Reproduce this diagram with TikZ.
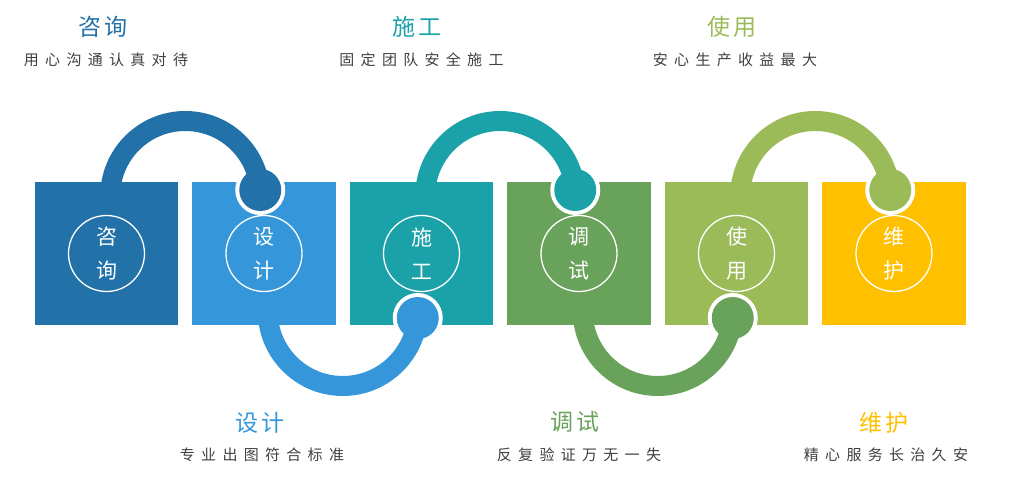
\documentclass[tikz,border=0pt]{standalone}
\usepackage{fontspec}
\usepackage{xcolor}
\usepackage{tikz}
\usetikzlibrary{positioning,calc}
\newfontfamily\cjk{Noto Sans CJK SC}
\newfontfamily\cjkwide[LetterSpace=42]{Noto Sans CJK SC}
\definecolor{pzblue}{HTML}{2272A9}
\definecolor{pzsky}{HTML}{3597D9}
\definecolor{pzteal}{HTML}{1AA2A8}
\definecolor{pzgreen}{HTML}{68A25B}
\definecolor{pzlime}{HTML}{9BBB59}
\definecolor{pzgold}{HTML}{FFC000}
\definecolor{pzgray}{HTML}{404040}

\begin{document}
\begin{tikzpicture}[x=1pt,y=-1pt,
  blk/.style={rectangle,minimum size=143.5pt,inner sep=0pt},
  rng/.style={circle,draw=white,line width=1.3pt,minimum size=76pt,inner sep=0pt,align=center,text=white,font=\cjk\fontsize{21pt}{34pt}\selectfont},
  hole/.style={circle,fill=white,minimum size=50pt,inner sep=0pt},
  knb/.style={circle,minimum size=42pt,inner sep=0pt},
  lnk/.style={line width=20pt},
  ttl/.style={font=\cjk\fontsize{23pt}{24pt}\selectfont},
  sub/.style={font=\cjkwide\fontsize{15pt}{16pt}\selectfont,text=pzgray}]
\useasboundingbox (0,0) rectangle (1013,489);
% ---- squares with rings ----
\foreach \i/\x/\c/\a/\b in {1/106.5/pzblue/咨/询,2/264/pzsky/设/计,3/421.5/pzteal/施/工,4/579/pzgreen/调/试,5/736.5/pzlime/使/用,6/894/pzgold/维/护}{
  \node[blk,fill=\c] (s\i) at (\x,253.5) {};
  \node[rng] (r\i) at (s\i) {\a\\\b};}
% ---- white holes under the knobs ----
\foreach \i/\dy in {2/-63.5,3/64.5,4/-63.5,5/64.5,6/-63.5}{
  \coordinate (h\i) at ($(s\i)+(-3.75,\dy)$);
  \node[hole] (w\i) at (h\i) {};}
% ---- links ----
\foreach \i/\j/\c in {1/2/pzblue,3/4/pzteal,5/6/pzlime}
  \draw[lnk,\c] ($(s\i)+(3.75,-57.5)$) arc[start angle=180,end angle=0,radius=75pt] -- (h\j);
\foreach \i/\j/\c in {2/3/pzsky,4/5/pzgreen}
  \draw[lnk,\c] ($(s\i)+(3.75,57.5)$) arc[start angle=180,end angle=360,radius=75pt] -- (h\j);
\foreach \i/\c in {2/pzblue,3/pzsky,4/pzteal,5/pzgreen,6/pzlime}
  \node[knb,fill=\c] (k\i) at (h\i) {};
% ---- captions ----
\node[ttl,text=pzblue] (t1) at (103,27) {咨\kern4pt 询};
\node[sub] (d1) at (106,60) {用心沟通认真对待};
\node[ttl,text=pzteal] (t3) at (417,27) {施\kern4pt 工};
\node[sub] (d3) at (421.5,60) {固定团队安全施工};
\node[ttl,text=pzlime] (t5) at (732,27) {使\kern4pt 用};
\node[sub] (d5) at (735,60) {安心生产收益最大};
\node[ttl,text=pzsky] (t2) at (260,423) {设\kern4pt 计};
\node[sub] (d2) at (262,455) {专业出图符合标准};
\node[ttl,text=pzgreen] (t4) at (575,422) {调\kern4pt 试};
\node[sub] (d4) at (579,455) {反复验证万无一失};
\node[ttl,text=pzgold] (t6) at (884,423) {维\kern4pt 护};
\node[sub] (d6) at (886,455) {精心服务长治久安};
\end{tikzpicture}
\end{document}
